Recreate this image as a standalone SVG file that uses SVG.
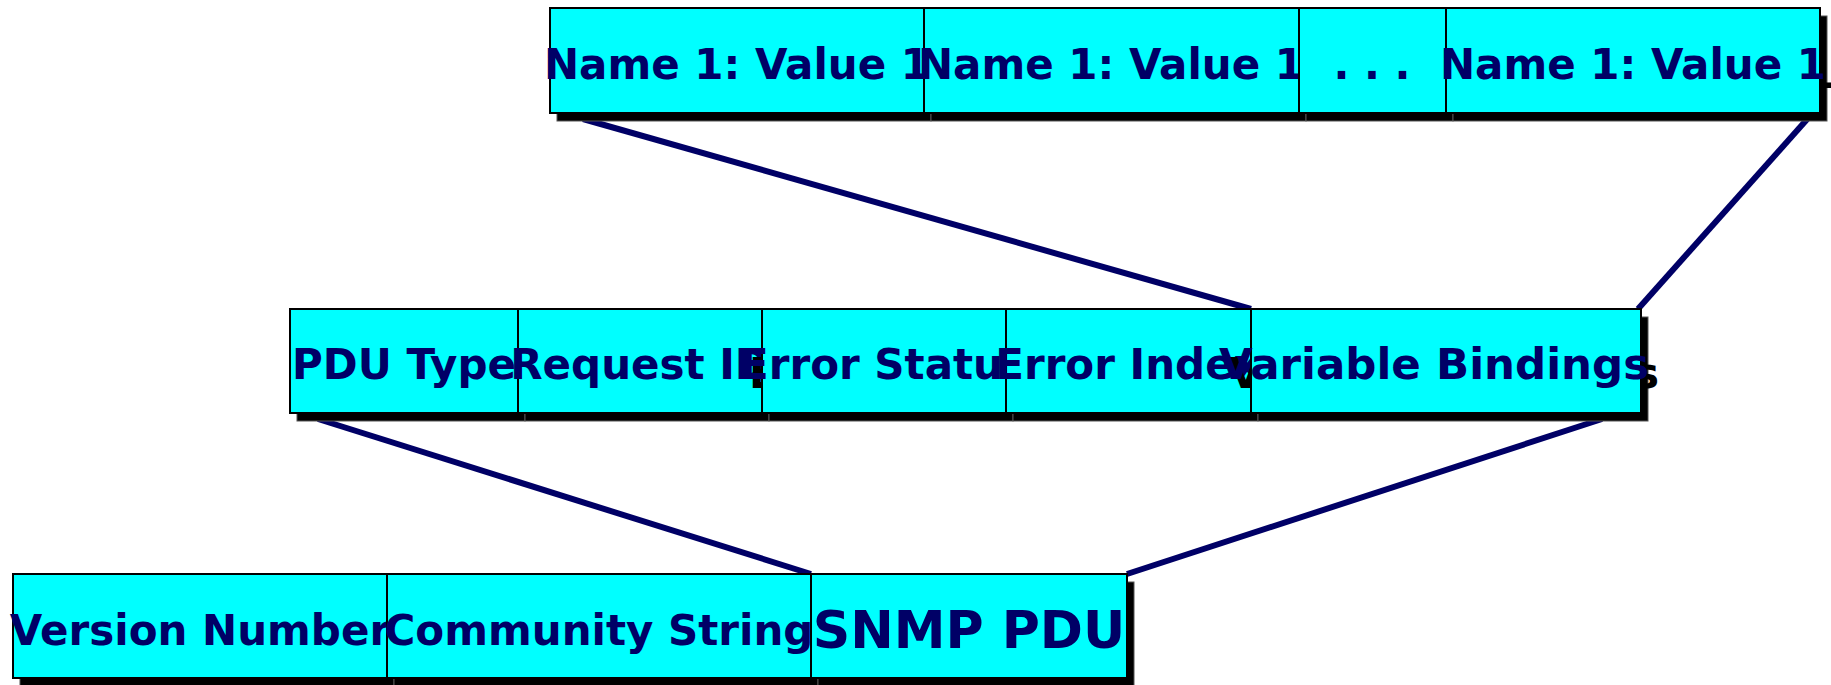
<svg xmlns="http://www.w3.org/2000/svg" width="1831" height="685" viewBox="0 0 1831 685">
<style>
.bg{fill:#ffffff}
.sh{fill:#000000;stroke:#555555;stroke-width:1}
.cell{fill:#00ffff;stroke:#000000;stroke-width:2}
.t{font-family:'DejaVu Sans','Liberation Sans',sans-serif;font-weight:bold;font-size:42px;text-anchor:middle;fill:#000066}
.ts{font-family:'DejaVu Sans','Liberation Sans',sans-serif;font-weight:bold;font-size:42px;text-anchor:middle;fill:#000000}
.big{font-size:52px}
.vb{font-size:43.5px}
.ln{stroke:#000066;stroke-width:6;fill:none}
</style>
<rect class="bg" x="0" y="0" width="1831" height="685"/>
<g id="connectors">
<line class="ln" x1="583" y1="119" x2="1251" y2="309"/>
<line class="ln" x1="1810" y1="116" x2="1638" y2="309"/>
<line class="ln" x1="318" y1="419" x2="811" y2="574"/>
<line class="ln" x1="1602" y1="419" x2="1127" y2="574"/>
</g>
<g id="top-row">
<g id="nv1"><rect class="sh" x="557" y="16" width="374" height="105"/><text class="ts" x="746" y="88">Name 1: Value 1</text><rect class="cell" x="550" y="8" width="374" height="105"/><text class="t" x="737" y="79">Name 1: Value 1</text></g>
<g id="nv2"><rect class="sh" x="931" y="16" width="375" height="105"/><text class="ts" x="1120" y="88">Name 1: Value 1</text><rect class="cell" x="924" y="8" width="375" height="105"/><text class="t" x="1111" y="79">Name 1: Value 1</text></g>
<g id="dots"><rect class="sh" x="1306" y="16" width="147" height="105"/><text class="ts" x="1381" y="88">. . .</text><rect class="cell" x="1299" y="8" width="147" height="105"/><text class="t" x="1372" y="79">. . .</text></g>
<g id="nv3"><rect class="sh" x="1453" y="16" width="374" height="105"/><text class="ts" x="1642" y="88">Name 1: Value 1</text><rect class="cell" x="1446" y="8" width="374" height="105"/><text class="t" x="1633" y="79">Name 1: Value 1</text></g>
</g>
<g id="middle-row">
<g id="pdu-type"><rect class="sh" x="297" y="317" width="228" height="104"/><text class="ts" x="413" y="388">PDU Type</text><rect class="cell" x="290" y="309" width="228" height="104"/><text class="t" x="404" y="379">PDU Type</text></g>
<g id="request-id"><rect class="sh" x="525" y="317" width="244" height="104"/><text class="ts" x="649" y="388">Request ID</text><rect class="cell" x="518" y="309" width="244" height="104"/><text class="t" x="640" y="379">Request ID</text></g>
<g id="error-status"><rect class="sh" x="769" y="317" width="244" height="104"/><text class="ts" x="893" y="388">Error Status</text><rect class="cell" x="762" y="309" width="244" height="104"/><text class="t" x="884" y="379">Error Status</text></g>
<g id="error-index"><rect class="sh" x="1013" y="317" width="245" height="104"/><text class="ts" x="1137" y="388">Error Index</text><rect class="cell" x="1006" y="309" width="245" height="104"/><text class="t" x="1128" y="379">Error Index</text></g>
<g id="variable-bindings"><rect class="sh" x="1258" y="317" width="390" height="104"/><text class="ts vb" x="1444" y="388">Variable Bindings</text><rect class="cell" x="1251" y="309" width="390" height="104"/><text class="t vb" x="1434" y="379">Variable Bindings</text></g>
</g>
<g id="bottom-row">
<g id="version-number"><rect class="sh" x="20" y="582" width="374" height="104"/><text class="ts" x="209" y="654">Version Number</text><rect class="cell" x="13" y="574" width="374" height="104"/><text class="t" x="200" y="645">Version Number</text></g>
<g id="community-string"><rect class="sh" x="394" y="582" width="424" height="104"/><text class="ts" x="608" y="654">Community String</text><rect class="cell" x="387" y="574" width="424" height="104"/><text class="t" x="599" y="645">Community String</text></g>
<g id="snmp-pdu"><rect class="sh" x="818" y="582" width="316" height="104"/><text class="ts big" x="978" y="657">SNMP PDU</text><rect class="cell" x="811" y="574" width="316" height="104"/><text class="t big" x="969" y="648">SNMP PDU</text></g>
</g>
</svg>
